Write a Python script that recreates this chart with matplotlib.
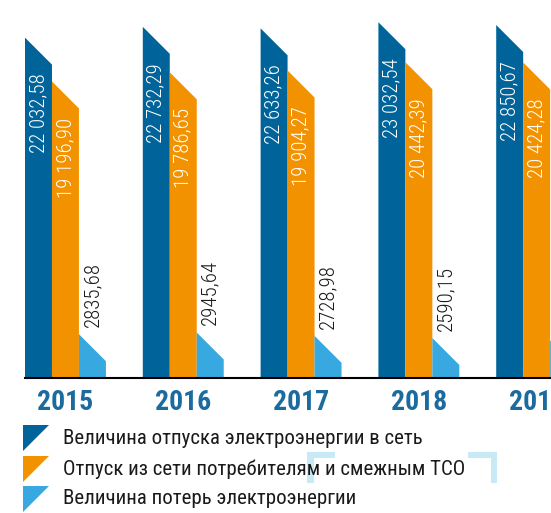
import numpy as np
import matplotlib.pyplot as plt
from matplotlib.patches import Polygon

# данные
years = ["2015", "2016", "2017", "2018", "2019"]
supply = [22032.58, 22732.29, 22633.26, 23032.54, 22850.67]      # отпуск в сеть
consumers = [19196.90, 19786.65, 19904.27, 20442.39, 20424.28]   # отпуск потребителям и ТСО
losses = [2835.68, 2945.64, 2728.98, 2590.15, 2426.39]           # потери
labels = ["Величина отпуска электроэнергии в сеть",
          "Отпуск из сети потребителям и смежным ТСО",
          "Величина потерь электроэнергии"]
colors = ["#00649b", "#f39200", "#38a9e0"]

W, H = 551, 513
plt.rcParams['font.family'] = ['Roboto Condensed', 'DejaVu Sans']

fig = plt.figure(figsize=(W / 100, H / 100), dpi=100)
ax = fig.add_axes([25 / W, 135 / H, 526 / W, 378 / H])

w = 0.229                      # ширина столбика
x = np.arange(len(years))
ax.set_xlim(-1.5 * w, -1.5 * w + 526 / 117.8)
ax.set_ylim(0, 24470)

# срез верхушки под 45 градусов
xpx = 526 / (ax.get_xlim()[1] - ax.get_xlim()[0])
ypx = 378 / (ax.get_ylim()[1] - ax.get_ylim()[0])
slant = w * xpx / ypx

def draw_bar(x0, h, color):
    xs = [x0, x0, x0 + w, x0 + w]
    ys = [0, h, h - slant, 0]
    ax.fill(xs, ys, color=color, lw=0, zorder=2)

for i in range(len(years)):
    series = [supply[i], consumers[i], losses[i]]
    for k, v in enumerate(series):
        x0 = x[i] + (k - 1.5) * w
        draw_bar(x0, v, colors[k])
        txt = f"{v:,.2f}".replace(",", " ").replace(".", ",")
        if k < 2:
            ax.annotate(txt, (x0 + w / 2, v - slant), xytext=(0, -9),
                        textcoords="offset pixels", rotation=90,
                        ha="center", va="top", color="white", fontsize=15,
                        fontweight="light", zorder=3)
        else:
            txt = txt.replace(" ", "")
            ax.annotate(txt, (x0 + w / 2, v), xytext=(0, 7),
                        textcoords="offset pixels", rotation=90,
                        ha="center", va="bottom", color="#1a1a1a",
                        fontsize=15, fontweight="light", zorder=3)

ax.set_xticks(x)
ax.set_xticklabels(years, fontsize=20, fontweight="bold", color="#1b6b9f")
ax.tick_params(axis="x", length=0, pad=8)
ax.set_yticks([])
for s in ["left", "right", "top"]:
    ax.spines[s].set_visible(False)
ax.spines["bottom"].set_linewidth(1.5)
ax.spines["bottom"].set_zorder(4)


def fx(px):
    return px / W


def fy(py):
    return 1 - py / H

# декоративные уголки
deco = "#c8e9f6"
for pts in ([(307, 452), (335, 452), (335, 458), (314, 458), (314, 483), (307, 483)],
            [(468, 452), (497, 452), (497, 483), (491, 483), (491, 458), (468, 458)]):
    fig.add_artist(Polygon([(fx(a), fy(b)) for a, b in pts], closed=True,
                           transform=fig.transFigure, color=deco, lw=0, zorder=0))

# легенда
rows = [438, 469, 499]
for k in range(3):
    yc = rows[k]
    tri = [(fx(23), fy(yc - 13)), (fx(49), fy(yc - 13)), (fx(23), fy(yc + 13))]
    fig.add_artist(Polygon(tri, closed=True, transform=fig.transFigure,
                           color=colors[k], lw=0))
    fig.text(fx(63), fy(yc), labels[k], fontsize=15, color="#1a1a1a",
             va="center", ha="left", zorder=2)

fig.savefig("out.png", dpi=100)
